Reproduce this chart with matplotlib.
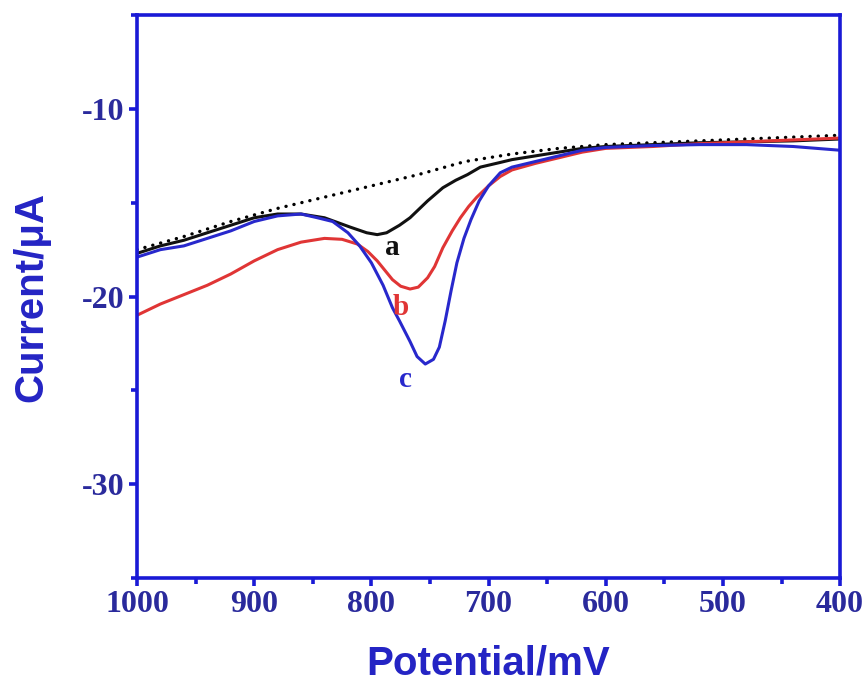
import matplotlib
matplotlib.use('Agg')
import matplotlib.pyplot as plt
from matplotlib.ticker import MultipleLocator

plt.rcParams['axes.unicode_minus'] = False

# potential (mV) and currents (uA)
pot_a = [1000, 980, 960, 940, 920, 900, 880, 860, 840, 818, 804, 795, 787,
         776, 767, 752, 739, 728, 718, 707, 690, 680, 660, 640, 620, 600,
         560, 520, 480, 440, 400]
cur_a = [-17.7, -17.3, -17.0, -16.6, -16.2, -15.8, -15.6, -15.6, -15.8, -16.3,
         -16.6, -16.7, -16.6, -16.2, -15.8, -14.9, -14.2, -13.8, -13.5, -13.1,
         -12.85, -12.7, -12.5, -12.3, -12.1, -12.0, -11.9, -11.8, -11.75, -11.7,
         -11.6]

pot_b = [1000, 980, 960, 940, 920, 900, 880, 860, 840, 825, 812, 803, 795,
         782, 775, 767, 760, 752, 746, 739, 731, 724, 717, 710, 700, 690, 680,
         660, 640, 620, 600, 560, 520, 480, 440, 400]
cur_b = [-21.0, -20.4, -19.9, -19.4, -18.8, -18.1, -17.5, -17.1, -16.9, -16.95,
         -17.2, -17.6, -18.1, -19.1, -19.45, -19.6, -19.5, -19.0, -18.4, -17.4,
         -16.5, -15.8, -15.2, -14.7, -14.1, -13.6, -13.25, -12.9, -12.6, -12.3,
         -12.1, -12.0, -11.85, -11.75, -11.65, -11.55]

pot_c = [1000, 980, 960, 940, 920, 900, 880, 860, 846, 833, 820, 810, 800,
         790, 782, 776, 767, 761, 754, 747, 742, 737, 732, 727, 721, 715, 708,
         700, 690, 680, 660, 640, 620, 600, 560, 520, 480, 440, 400]
cur_c = [-17.9, -17.5, -17.3, -16.9, -16.5, -16.0, -15.7, -15.6, -15.8, -16.0,
         -16.6, -17.3, -18.2, -19.4, -20.6, -21.3, -22.4, -23.2, -23.6, -23.35,
         -22.7, -21.3, -19.7, -18.2, -16.9, -15.9, -14.9, -14.1, -13.4, -13.1,
         -12.8, -12.5, -12.2, -12.05, -11.95, -11.9, -11.9, -12.0, -12.2]

base_pot = [1000, 960, 920, 880, 840, 800, 760, 720, 680, 640, 600, 560, 520,
            480, 440, 400]
base_cur = [-17.5, -16.8, -16.0, -15.3, -14.7, -14.1, -13.5, -12.8, -12.4,
            -12.1, -11.9, -11.8, -11.7, -11.6, -11.5, -11.4]

labels = ['a', 'b', 'c']
label_pos = [(782, -17.4), (775, -20.6), (771, -24.4)]

frame_col = '#1a1ad6'
tick_col = '#2a2a9c'
label_col = '#2424c4'
line_cols = ['#111111', '#e03535', '#2828cc']

fig = plt.figure(figsize=(8.67, 6.92), dpi=100)
ax = fig.add_axes([0.158, 0.165, 0.811, 0.813])

ax.plot(base_pot, base_cur, color='black', lw=2.4,
        linestyle=(0, (0.05, 2.4)), dash_capstyle='round')
for x, y, c in zip([pot_a, pot_b, pot_c], [cur_a, cur_b, cur_c], line_cols):
    ax.plot(x, y, color=c, lw=2.2, solid_joinstyle='round')

for (lx, ly), t, c in zip(label_pos, labels, line_cols):
    ax.text(lx, ly, t, color=c, fontsize=21, fontweight='bold',
            family='Liberation Serif', ha='center', va='center')

ax.set_xlim(1000, 400)
ax.set_ylim(-35, -5)
ax.xaxis.set_major_locator(MultipleLocator(100))
ax.xaxis.set_minor_locator(MultipleLocator(50))
ax.yaxis.set_minor_locator(MultipleLocator(5))
ax.set_yticks([-10, -20, -30])

for s in ax.spines.values():
    s.set_color(frame_col)
    s.set_linewidth(2.6)
ax.tick_params(which='both', direction='out', color=frame_col, width=2.6,
               top=False, right=False)
ax.tick_params(which='major', length=6, pad=3)
ax.tick_params(which='minor', length=4)
for lab in ax.get_xticklabels() + ax.get_yticklabels():
    lab.set_fontfamily('Liberation Serif')
    lab.set_fontweight('bold')
    lab.set_fontsize(23)
    lab.set_color(tick_col)

ax.set_xlabel('Potential/mV', fontsize=29, fontweight='bold',
              family='Liberation Sans', color=label_col, labelpad=18)
ax.set_ylabel('Current/\u03bcA', fontsize=29, fontweight='bold',
              family='Liberation Sans', color=label_col, labelpad=23)

fig.savefig('out.png', dpi=100)
